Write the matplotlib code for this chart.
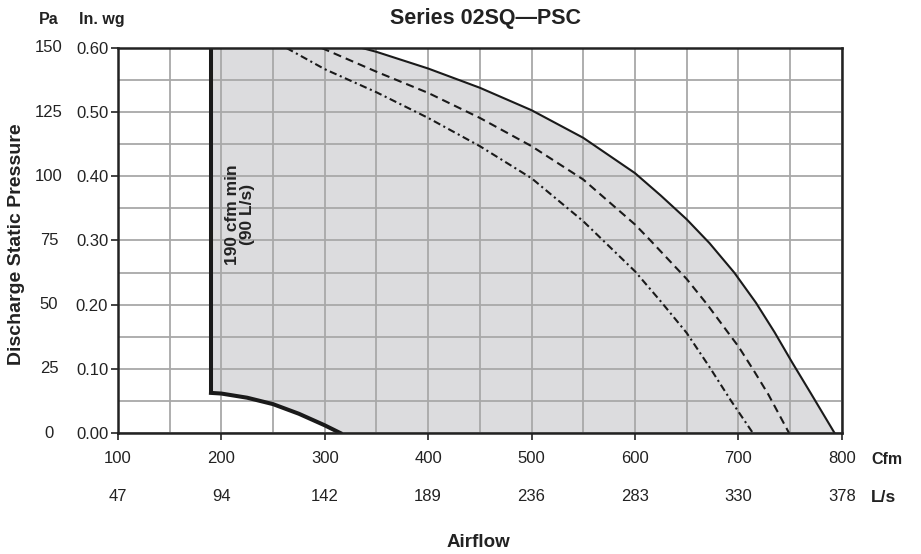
import matplotlib.pyplot as plt
from matplotlib.patches import Polygon
import numpy as np

plt.rcParams['font.family'] = ['Liberation Sans', 'DejaVu Sans']

# Data (cfm vs in. wg)
cfm_ticks = [100, 200, 300, 400, 500, 600, 700, 800]
ls_labels = ['47', '94', '142', '189', '236', '283', '330', '378']
wg_ticks = [0.0, 0.1, 0.2, 0.3, 0.4, 0.5, 0.6]
pa_labels = ['0', '25', '50', '75', '100', '125', '150']

min_cfm = 190
min_line_top = 0.60

# lower limit curve (thick)
low_cfm = [190, 200, 225, 250, 275, 300, 315]
low_wg = [0.0625, 0.0615, 0.055, 0.045, 0.030, 0.012, 0.0]

# max fan curve (solid)
high_cfm = [336, 350, 400, 450, 500, 550, 600, 625, 650, 672, 696, 717, 735, 752, 770, 793]
high_wg = [0.60, 0.594, 0.568, 0.538, 0.503, 0.46, 0.405, 0.37, 0.333, 0.296, 0.25, 0.203, 0.157, 0.11, 0.062, 0.0]

# dashed curve
mid_cfm = [297, 350, 400, 450, 500, 550, 600, 615, 650, 670, 693, 700, 715, 729, 749]
mid_wg = [0.60, 0.563, 0.53, 0.491, 0.447, 0.395, 0.325, 0.30, 0.24, 0.20, 0.15, 0.135, 0.097, 0.06, 0.0]

# dash-dot curve
dd_cfm = [263, 300, 350, 400, 450, 500, 550, 600, 625, 650, 672, 693, 714]
dd_wg = [0.60, 0.567, 0.531, 0.491, 0.447, 0.397, 0.33, 0.252, 0.205, 0.156, 0.103, 0.05, 0.0]

fig = plt.figure(figsize=(9.21, 5.54), dpi=100)
ax = fig.add_axes([0.128, 0.2184, 0.786, 0.695])
ax.set_xlim(100, 800)
ax.set_ylim(0, 0.60)

# shaded operating region
verts = [(min_cfm, min_line_top)] + list(zip(high_cfm, high_wg)) + list(zip(low_cfm[::-1], low_wg[::-1]))
ax.add_patch(Polygon(verts, closed=True, facecolor='#dcdcde', edgecolor='none', zorder=1))

# grid
ax.set_xticks(cfm_ticks)
ax.set_xticks(np.arange(150, 800, 100), minor=True)
ax.set_yticks(wg_ticks)
ax.set_yticks(np.arange(0.05, 0.6, 0.1), minor=True)
ax.grid(True, which='both', color='#a8a8a8', linewidth=1.3, zorder=2)
ax.set_axisbelow(False)

ink = '#1a1a1a'
ax.plot([min_cfm, min_cfm], [low_wg[0], min_line_top], color=ink, lw=2.9, zorder=4, solid_capstyle='butt')
ax.plot(low_cfm, low_wg, color=ink, lw=2.9, zorder=4, solid_joinstyle='round')
ax.plot(high_cfm, high_wg, color=ink, lw=1.5, zorder=4)
ax.plot(mid_cfm, mid_wg, color=ink, lw=1.5, ls=(0, (3.9, 2.4)), zorder=4)
ax.plot(dd_cfm, dd_wg, color=ink, lw=1.5, ls=(0, (3.5, 1.7, 1.0, 1.7)), zorder=4)

for s in ax.spines.values():
    s.set_color('#222222')
    s.set_linewidth(1.8)
    s.set_zorder(5)

ax.tick_params(which='minor', length=0)
ax.tick_params(which='major', length=5, width=1.2, color='#222222', labelsize=12, labelcolor='#222222')
ax.tick_params(axis='x', pad=8)
ax.tick_params(axis='y', pad=2)
ax.set_yticklabels(['%.2f' % v for v in wg_ticks])

ytr = ax.get_yaxis_transform()
xtr = ax.get_xaxis_transform()
for v, lab in zip(wg_ticks, pa_labels):
    ax.text(-0.095, v, lab, transform=ytr, ha='center', va='center', fontsize=12, color='#222222')
for v, lab in zip(cfm_ticks, ls_labels):
    ax.text(v, -0.165, lab, transform=xtr, ha='center', va='center', fontsize=12, color='#222222')

ax.text(-0.095, 1.075, 'Pa', transform=ax.transAxes, ha='center', va='center', fontsize=11.5, fontweight='bold', color='#222222')
ax.text(-0.022, 1.075, 'In. wg', transform=ax.transAxes, ha='center', va='center', fontsize=11.5, fontweight='bold', color='#222222')
ax.text(1.063, -0.068, 'Cfm', transform=ax.transAxes, ha='center', va='center', fontsize=11.5, fontweight='bold', color='#222222')
ax.text(1.057, -0.168, 'L/s', transform=ax.transAxes, ha='center', va='center', fontsize=12.5, fontweight='bold', color='#222222')

fig.text(0.527, 0.966, 'Series 02SQ\u2014PSC', ha='center', va='center', fontsize=15.5, fontweight='bold', color='#222222')
fig.text(0.519, 0.02, 'Airflow', ha='center', va='center', fontsize=13.5, fontweight='bold', color='#222222')
fig.text(0.018, 0.56, 'Discharge Static Pressure', rotation=90, ha='center', va='center', fontsize=14, fontweight='bold', color='#222222')

ax.text(218, 0.34, '190 cfm min\n(90 L/s)', rotation=90, ha='center', va='center', fontsize=12.5, fontweight='bold', color='#222222', linespacing=0.95, zorder=6)

fig.savefig('out.png', dpi=100)
